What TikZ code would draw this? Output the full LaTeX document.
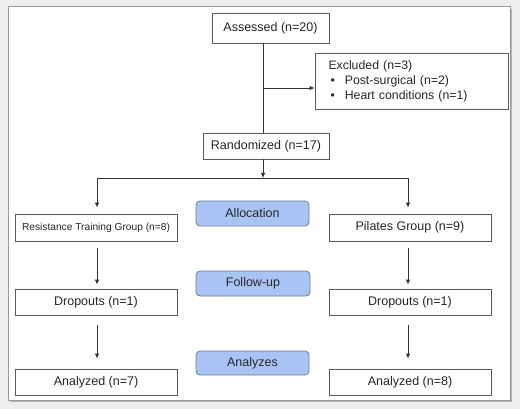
\documentclass[tikz,border=0pt]{standalone}
\usepackage{fontspec}
\setmainfont{Liberation Sans}
\usetikzlibrary{arrows.meta,positioning}
\definecolor{bgc}{HTML}{EEEEEE}
\definecolor{framec}{HTML}{9A9A9A}
\definecolor{boxc}{HTML}{5A5A5A}
\definecolor{phasefill}{HTML}{A9C4F4}
\definecolor{phasedraw}{HTML}{6E7C96}
\tikzset{
  box/.style={draw=boxc, line width=0.8pt, fill=white, inner sep=0pt, font=\fontsize{12.5}{14}\selectfont, text=black!85},
  phase/.style={draw=phasedraw, line width=0.8pt, fill=phasefill, rounded corners=4pt, inner sep=0pt, font=\fontsize{12.5}{14}\selectfont, text=black!85},
  conn/.style={draw=black!80, line width=0.8pt},
  arr/.style={conn, -{Latex[length=5pt,width=4.5pt]}},
}
\begin{document}
\begin{tikzpicture}[x=1pt,y=-1pt]
\useasboundingbox (0,0) rectangle (520,409);
\fill[bgc] (0,0) rectangle (520,409);
\fill[black!30] (10,9) rectangle (511.5,401.5);
\draw[framec, fill=white, line width=1pt] (8,7) rectangle (510,400);

\node[box, minimum width=117pt, minimum height=30pt] (assessed) at (270.5,28) {Assessed (n=20)};
\node[box, minimum width=193pt, minimum height=56pt, align=left, font=\fontsize{12.3}{15}\selectfont, text width=180pt] (excluded) at (411.5,81)
  {\hspace*{7pt}Excluded (n=3)\\
   \hspace*{9pt}\textbullet\hspace{10pt}Post-surgical (n=2)\\
   \hspace*{9pt}\textbullet\hspace{10pt}Heart conditions (n=1)};
\node[box, minimum width=126pt, minimum height=26pt] (random) at (266,146) {Randomized (n=17)};

\node[box, minimum width=162pt, minimum height=27pt, font=\fontsize{10.2}{12}\selectfont] (rt) at (96,227.5) {Resistance Training Group (n=8)};
\node[box, minimum width=162pt, minimum height=27pt] (pil) at (410,227.5) {Pilates Group (n=9)};
\node[box, minimum width=162pt, minimum height=26pt] (dropL) at (96,302) {Dropouts (n=1)};
\node[box, minimum width=162pt, minimum height=26pt] (dropR) at (410,302) {Dropouts (n=1)};
\node[box, minimum width=162pt, minimum height=26pt] (anaL) at (96,382) {Analyzed (n=7)};
\node[box, minimum width=162pt, minimum height=26pt] (anaR) at (410,382) {Analyzed (n=8)};

\node[phase, minimum width=113pt, minimum height=25pt] (alloc) at (252.5,213.5) {Allocation};
\node[phase, minimum width=114pt, minimum height=25pt] (follow) at (253,283.5) {Follow-up};
\node[phase, minimum width=113pt, minimum height=24pt] (analyzes) at (252.5,363) {Analyzes};

\coordinate (top) at (263,43);
\coordinate (bot) at (263,133);
\coordinate (junc) at (263,88);
\coordinate (split) at (263,178);
\coordinate (splitL) at (97,178);
\coordinate (splitR) at (408,178);

\draw[conn] (top) -- (bot);
\draw[arr] (junc) -- (excluded.west |- junc);
\draw[arr] (263,159) -- (split);
\draw[conn] (splitL) -- (splitR);
\draw[arr] (splitL) -- ([yshift=6pt]rt.north -| splitL);
\draw[arr] (splitR) -- ([yshift=6pt]pil.north -| splitR);
\draw[arr] ([yshift=-7pt]rt.south -| splitL) -- ([yshift=4pt]dropL.north -| splitL);
\draw[arr] ([yshift=-7pt]pil.south -| splitR) -- ([yshift=4pt]dropR.north -| splitR);
\draw[arr] ([yshift=-10pt]dropL.south -| splitL) -- ([yshift=10pt]anaL.north -| splitL);
\draw[arr] ([yshift=-10pt]dropR.south -| splitR) -- ([yshift=10pt]anaR.north -| splitR);
\end{tikzpicture}
\end{document}
